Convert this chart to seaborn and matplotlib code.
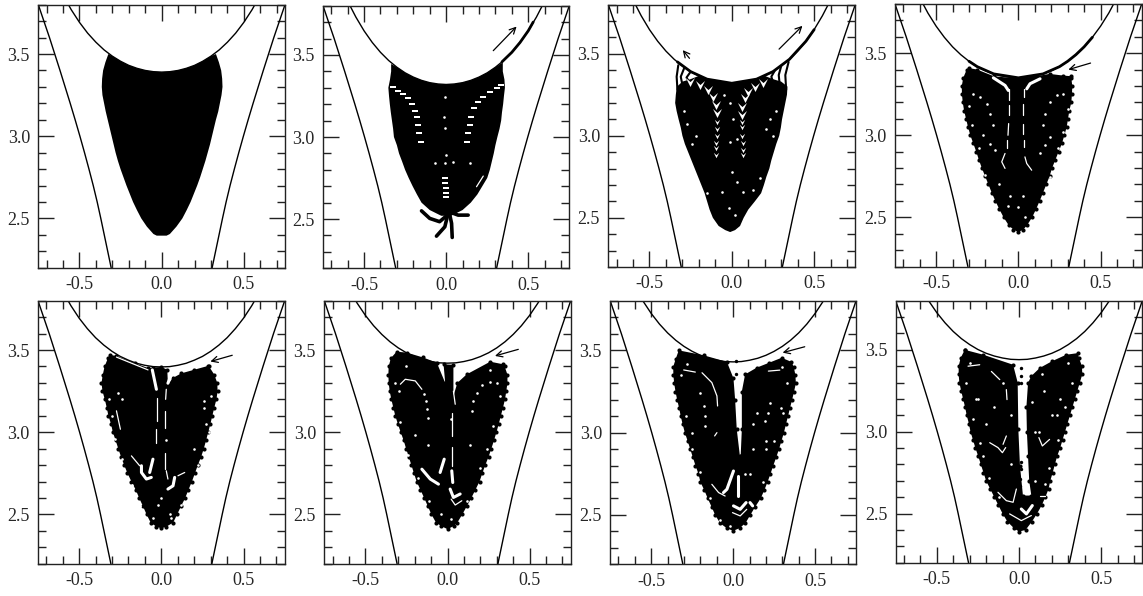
import pandas as pd
import seaborn as sns
import matplotlib.pyplot as plt
from matplotlib.path import Path
from matplotlib.ticker import MultipleLocator

# outer walls, same in every panel
wall_y = [3.8, 3.7, 3.6, 3.5, 3.4, 3.3, 3.2, 3.1, 3.0, 2.9, 2.8, 2.7, 2.6, 2.5, 2.4, 2.3, 2.2]
wall_left_x = [-0.75, -0.716, -0.682, -0.65, -0.618, -0.587, -0.556, -0.526, -0.497, -0.469, -0.442, -0.416, -0.392, -0.37, -0.349, -0.328, -0.307]
wall_right_x = [0.75, 0.716, 0.682, 0.65, 0.618, 0.587, 0.556, 0.526, 0.497, 0.469, 0.442, 0.416, 0.392, 0.37, 0.349, 0.328, 0.307]

# upper wall, one y list per panel, read at these |x|
top_x = [0.0, 0.05, 0.1, 0.15, 0.2, 0.25, 0.3, 0.35, 0.4, 0.45, 0.5, 0.55, 0.6]
top1_y = [3.39, 3.3925, 3.4, 3.413, 3.431, 3.456, 3.487, 3.525, 3.572, 3.627, 3.693, 3.77, 3.86]
top2_y = [3.32, 3.323, 3.331, 3.345, 3.365, 3.391, 3.425, 3.466, 3.516, 3.576, 3.647, 3.731, 3.828]
top3_y = [3.32, 3.323, 3.331, 3.345, 3.365, 3.391, 3.425, 3.466, 3.516, 3.576, 3.647, 3.731, 3.828]
top4_y = [3.35, 3.353, 3.361, 3.374, 3.393, 3.418, 3.451, 3.491, 3.539, 3.597, 3.665, 3.745, 3.839]
top5_y = [3.397, 3.399, 3.407, 3.419, 3.438, 3.461, 3.492, 3.53, 3.575, 3.63, 3.694, 3.77, 3.858]
top6_y = [3.42, 3.422, 3.43, 3.442, 3.46, 3.483, 3.513, 3.55, 3.595, 3.648, 3.711, 3.785, 3.871]
top7_y = [3.43, 3.432, 3.44, 3.452, 3.47, 3.494, 3.524, 3.561, 3.606, 3.66, 3.724, 3.799, 3.886]
top8_y = [3.44, 3.442, 3.45, 3.462, 3.479, 3.502, 3.532, 3.568, 3.612, 3.665, 3.727, 3.8, 3.885]

# cloud edges read at these heights; each side list ends at the panel's lowest level
levels = [3.5, 3.45, 3.4, 3.35, 3.3, 3.25, 3.2, 3.15, 3.1, 3.05, 3.0, 2.95, 2.9, 2.85, 2.8, 2.75, 2.7, 2.65, 2.6, 2.55, 2.5, 2.45]
lowest = [2.45, 2.6, 2.45, 2.45, 2.45, 2.45, 2.45, 2.45]

left1 = [-0.324, -0.342, -0.356, -0.362, -0.364, -0.36, -0.35, -0.34, -0.328, -0.316, -0.304, -0.292, -0.28, -0.266, -0.25, -0.232, -0.214, -0.194, -0.174, -0.15, -0.124, -0.09]
right1 = [0.33, 0.348, 0.362, 0.368, 0.37, 0.364, 0.354, 0.344, 0.33, 0.318, 0.306, 0.294, 0.28, 0.266, 0.25, 0.234, 0.216, 0.196, 0.176, 0.152, 0.126, 0.09]
tip1_x = [-0.05, -0.03, 0.03, 0.05]
tip1_y = [2.405, 2.395, 2.395, 2.405]
edge1_x = [0.33, 0.3, 0.25, 0.2, 0.15, 0.1, 0.05, 0.0, -0.05, -0.1, -0.15, -0.2, -0.25, -0.3, -0.324]
edge1_y = [3.5, 3.487, 3.456, 3.431, 3.413, 3.4, 3.3925, 3.39, 3.3925, 3.4, 3.413, 3.431, 3.456, 3.487, 3.5]

left2 = [-0.335, -0.342, -0.352, -0.348, -0.343, -0.337, -0.33, -0.323, -0.318, -0.3, -0.287, -0.268, -0.25, -0.228, -0.204, -0.178, -0.15]
right2 = [0.345, 0.355, 0.358, 0.352, 0.347, 0.34, 0.335, 0.325, 0.312, 0.3, 0.29, 0.278, 0.266, 0.25, 0.22, 0.19, 0.15]
tip2_x = [-0.1, -0.03, 0.03, 0.1]
tip2_y = [2.555, 2.52, 2.52, 2.555]
edge2_x = [0.345, 0.3, 0.25, 0.2, 0.15, 0.1, 0.05, 0.0, -0.05, -0.1, -0.15, -0.2, -0.25, -0.3, -0.335]
edge2_y = [3.455, 3.425, 3.391, 3.365, 3.345, 3.331, 3.323, 3.32, 3.323, 3.331, 3.345, 3.365, 3.391, 3.425, 3.445]

left3 = [-0.332, -0.334, -0.34, -0.344, -0.335, -0.323, -0.31, -0.3, -0.285, -0.265, -0.245, -0.225, -0.205, -0.185, -0.165, -0.15, -0.135, -0.115, -0.08]
right3 = [0.338, 0.335, 0.325, 0.315, 0.305, 0.298, 0.288, 0.27, 0.255, 0.24, 0.228, 0.21, 0.195, 0.178, 0.14, 0.1, 0.072, 0.05]
tip3_x = [-0.04, -0.01, 0.02]
tip3_y = [2.425, 2.413, 2.425]
edge3_x = [0.338, 0.3, 0.25, 0.2, 0.15, 0.1, 0.05, 0.0, -0.05, -0.1, -0.15, -0.2, -0.25, -0.3, -0.332]
edge3_y = [3.3, 3.33, 3.345, 3.365, 3.345, 3.331, 3.323, 3.32, 3.323, 3.331, 3.345, 3.365, 3.345, 3.33, 3.3]

left4 = [-0.314, -0.335, -0.344, -0.343, -0.338, -0.33, -0.318, -0.306, -0.292, -0.274, -0.256, -0.24, -0.222, -0.202, -0.182, -0.162, -0.14, -0.116, -0.09, -0.058]
right4 = [0.322, 0.328, 0.326, 0.322, 0.31, 0.302, 0.294, 0.28, 0.265, 0.245, 0.225, 0.205, 0.19, 0.17, 0.15, 0.13, 0.108, 0.084, 0.052]
tip4_x = [-0.03, 0.0, 0.03]
tip4_y = [2.425, 2.41, 2.425]
edge4_x = [0.32, 0.27, 0.19, 0.11, 0.03, -0.05, -0.15, -0.25, -0.3]
edge4_y = [3.36, 3.364, 3.374, 3.36, 3.35, 3.35, 3.36, 3.4, 3.41]

left5 = [-0.325, -0.345, -0.356, -0.364, -0.358, -0.344, -0.332, -0.322, -0.306, -0.295, -0.278, -0.262, -0.245, -0.226, -0.206, -0.182, -0.156, -0.135, -0.112, -0.09, -0.065]
right5 = [0.29, 0.322, 0.34, 0.342, 0.335, 0.322, 0.31, 0.298, 0.285, 0.272, 0.258, 0.242, 0.222, 0.204, 0.186, 0.165, 0.145, 0.12, 0.096, 0.072]
tip5_x = [-0.03, 0.0, 0.03]
tip5_y = [2.425, 2.415, 2.425]
edge5_x = [0.283, 0.2, 0.121, 0.07, 0.04, 0.036, 0.0, -0.05, -0.08, -0.16, -0.273, -0.314]
edge5_y = [3.403, 3.38, 3.358, 3.33, 3.291, 3.38, 3.397, 3.393, 3.39, 3.42, 3.464, 3.47]

left6 = [-0.345, -0.358, -0.36, -0.358, -0.352, -0.342, -0.33, -0.318, -0.302, -0.285, -0.267, -0.252, -0.236, -0.22, -0.204, -0.188, -0.165, -0.142, -0.12, -0.098, -0.07]
right6 = [0.348, 0.365, 0.365, 0.358, 0.35, 0.338, 0.325, 0.312, 0.298, 0.283, 0.267, 0.25, 0.23, 0.212, 0.195, 0.17, 0.145, 0.118, 0.09, 0.06]
tip6_x = [-0.04, 0.0, 0.04]
tip6_y = [2.43, 2.41, 2.43]
edge6_x = [0.34, 0.26, 0.117, 0.06, 0.036, 0.036, -0.024, -0.014, -0.065, -0.15, -0.247, -0.31]
edge6_y = [3.413, 3.429, 3.352, 3.3, 3.22, 3.41, 3.413, 3.3, 3.423, 3.455, 3.484, 3.49]

left7 = [-0.35, -0.366, -0.365, -0.36, -0.352, -0.342, -0.33, -0.32, -0.308, -0.295, -0.278, -0.262, -0.246, -0.23, -0.212, -0.2, -0.176, -0.155, -0.132, -0.11, -0.08]
right7 = [0.37, 0.38, 0.383, 0.372, 0.36, 0.347, 0.335, 0.322, 0.31, 0.295, 0.28, 0.263, 0.245, 0.228, 0.21, 0.19, 0.168, 0.135, 0.105, 0.075]
tip7_x = [-0.04, 0.0, 0.04]
tip7_y = [2.42, 2.403, 2.42]
edge7_x = [0.356, 0.296, 0.22, 0.144, 0.073, 0.053, 0.053, 0.046, 0.041, 0.022, 0.012, 0.002, -0.038, -0.18, -0.332]
edge7_y = [3.43, 3.455, 3.425, 3.395, 3.354, 3.25, 3.02, 2.86, 2.86, 3.02, 3.2, 3.33, 3.43, 3.47, 3.5]

left8 = [-0.33, -0.355, -0.367, -0.367, -0.363, -0.352, -0.34, -0.328, -0.318, -0.305, -0.295, -0.28, -0.265, -0.248, -0.232, -0.216, -0.2, -0.175, -0.15, -0.125, -0.1, -0.07]
right8 = [0.365, 0.383, 0.385, 0.37, 0.355, 0.34, 0.325, 0.31, 0.295, 0.28, 0.265, 0.25, 0.232, 0.218, 0.205, 0.19, 0.18, 0.16, 0.138, 0.11, 0.078]
tip8_x = [-0.03, 0.0, 0.04]
tip8_y = [2.41, 2.39, 2.4]
edge8_x = [0.358, 0.287, 0.2, 0.126, 0.075, 0.055, 0.045, 0.048, 0.055, 0.062, 0.075, 0.024, 0.006, -0.004, -0.008, -0.036, -0.217, -0.33]
edge8_y = [3.48, 3.47, 3.43, 3.389, 3.34, 3.298, 3.15, 3.0, 2.85, 2.7, 2.61, 2.61, 2.79, 3.014, 3.3, 3.409, 3.47, 3.5]

# thick ridges of particles hugging the upper wall
ridge2_x = [0.34, 0.4, 0.45, 0.5, 0.53]
ridge2_y = [3.458, 3.516, 3.576, 3.647, 3.7]
ridge3_x = [-0.33, -0.25, -0.15, 0.0, 0.15, 0.25, 0.35, 0.45, 0.5]
ridge3_y = [3.45, 3.391, 3.345, 3.32, 3.345, 3.391, 3.466, 3.576, 3.647]
ridge4_x = [-0.3, -0.25, -0.15, 0.0, 0.15, 0.25, 0.3, 0.35, 0.4, 0.45]
ridge4_y = [3.451, 3.418, 3.374, 3.35, 3.374, 3.418, 3.451, 3.491, 3.539, 3.597]

# black strands under the wall in panel 3
strands3 = [
    ([-0.325, -0.335, -0.33], [3.43, 3.36, 3.28]),
    ([-0.29, -0.31, -0.3], [3.41, 3.36, 3.31]),
    ([-0.25, -0.275, -0.26], [3.39, 3.355, 3.33]),
    ([0.345, 0.325, 0.33], [3.45, 3.37, 3.28]),
    ([0.3, 0.285, 0.29], [3.425, 3.37, 3.32]),
    ([0.26, 0.24, 0.25], [3.395, 3.36, 3.33]),
]

# filaments leaving the bottom of panel 2
leg_a_x = [-0.15, -0.1, -0.04, 0.02]
leg_a_y = [2.55, 2.504, 2.484, 2.535]
leg_b_x = [0.134, 0.073, 0.03]
leg_b_y = [2.524, 2.524, 2.54]
leg_c_x = [-0.059, -0.008, 0.012]
leg_c_y = [2.396, 2.453, 2.535]
leg_d_x = [0.037, 0.033, 0.02]
leg_d_y = [2.388, 2.474, 2.535]

# stray black points
stray7_x = [0.016, 0.016]
stray7_y = [3.435, 3.354]
stray8_x = [0.014, 0.014, 0.014, 0.014, 0.014, 0.008, 0.006]
stray8_y = [3.389, 3.338, 3.3, 2.812, 2.771, 2.71, 2.67]

# white stripes in panel 2
stripes2_x = [-0.323, -0.293, -0.262, -0.232, -0.207, -0.189, -0.177, -0.169, -0.163, -0.156, 0.337, 0.307, 0.266, 0.226, 0.195, 0.171, 0.154, 0.144, 0.134, 0.124, -0.008, -0.008, 0.002, 0.002, -0.002]
stripes2_y = [3.303, 3.283, 3.262, 3.236, 3.201, 3.161, 3.12, 3.073, 3.022, 2.972, 3.317, 3.297, 3.276, 3.246, 3.215, 3.175, 3.124, 3.073, 3.022, 2.972, 2.748, 2.717, 2.687, 2.66, 2.636]

# white specks inside the cloud
holes2_x = [-0.008, -0.014, -0.008, 0.002, -0.065, -0.008, 0.043, 0.144]
holes2_y = [3.246, 3.124, 3.053, 2.89, 2.839, 2.839, 2.85, 2.839]
holes3_x = [-0.29, -0.24, -0.2, -0.15, -0.05, 0.01, 0.03, 0.23, 0.25, -0.06, 0.0, 0.07, -0.02, 0.02, -0.27, -0.22, 0.21, 0.27, -0.01, -0.01, 0.03, 0.13, 0.17]
holes3_y = [3.15, 2.95, 2.7, 2.65, 3.25, 3.1, 2.98, 3.1, 3.0, 2.66, 2.78, 2.66, 2.56, 2.52, 3.07, 3.0, 3.04, 3.15, 3.2, 2.96, 2.72, 2.67, 2.74]
holes4_x = [-0.273, -0.233, -0.192, -0.172, -0.152, -0.213, -0.172, -0.142, 0.273, 0.233, 0.192, 0.162, 0.148, 0.192, 0.162, 0.132, 0.192, -0.061, 0.04, 0.0, -0.3, -0.28, -0.24, -0.2, 0.3, 0.27, 0.24, -0.05, 0.03, -0.12]
holes4_y = [3.253, 3.233, 3.192, 3.132, 3.061, 3.0, 2.949, 2.909, 3.253, 3.243, 3.202, 3.132, 3.061, 2.99, 2.939, 2.889, 2.747, 2.569, 2.504, 2.565, 3.18, 3.06, 2.92, 2.76, 3.16, 3.02, 2.92, 2.63, 2.63, 2.7]
holes5_x = [-0.263, -0.24, 0.257, 0.26, -0.3, 0.29, 0.0, -0.02, 0.03, 0.05, 0.2, -0.32, -0.28, -0.24, -0.18, 0.3, 0.27, 0.22, 0.16, -0.13, 0.12, -0.05, 0.06]
holes5_y = [3.241, 3.2, 3.19, 3.15, 3.1, 3.0, 2.6, 2.56, 2.95, 2.5, 2.9, 3.2, 2.96, 2.84, 2.68, 3.22, 3.05, 2.8, 2.62, 2.55, 2.56, 2.48, 2.48]
holes6_x = [-0.146, -0.132, -0.126, -0.119, -0.298, 0.259, 0.3, 0.209, 0.178, 0.158, 0.148, -0.2, -0.12, 0.14, 0.02, -0.04, -0.32, -0.29, -0.24, -0.18, 0.32, 0.28, 0.24, 0.2, -0.11, 0.12, 0.02, -0.25, 0.26]
holes6_y = [3.231, 3.19, 3.14, 3.089, 3.251, 3.306, 3.298, 3.286, 3.241, 3.19, 3.13, 2.98, 2.92, 2.92, 3.08, 2.5, 3.3, 3.06, 2.86, 2.72, 3.22, 3.04, 2.9, 2.78, 2.58, 2.58, 2.47, 3.4, 3.38]
holes7_x = [-0.18, -0.17, -0.17, 0.225, 0.215, 0.194, 0.144, 0.306, -0.2, -0.25, 0.12, 0.2, -0.02, 0.2, 0.07, -0.32, -0.29, -0.25, -0.2, 0.33, 0.29, 0.25, 0.12, 0.1, -0.14, -0.08, 0.18, 0.3, -0.28]
holes7_y = [3.162, 3.1, 3.04, 3.182, 3.12, 3.071, 3.12, 3.121, 3.24, 3.0, 2.9, 2.9, 2.43, 2.95, 2.75, 3.35, 3.1, 2.9, 2.76, 3.3, 3.15, 2.95, 3.05, 2.75, 2.6, 2.47, 2.7, 3.4, 3.42]
holes8_x = [-0.25, -0.2, -0.15, 0.15, 0.2, 0.25, -0.05, 0.1, -0.22, 0.23, -0.32, -0.28, -0.24, -0.18, -0.12, 0.32, 0.28, 0.24, 0.18, 0.14, -0.3, 0.3, 0.1, -0.05, -0.26, 0.12, 0.08, -0.1, 0.16]
holes8_y = [3.2, 3.05, 3.15, 3.25, 3.1, 3.2, 3.1, 3.0, 2.85, 3.1, 3.3, 3.08, 2.93, 2.72, 2.6, 3.3, 3.15, 2.95, 2.78, 3.35, 3.42, 3.42, 2.7, 2.8, 3.2, 3.0, 3.18, 3.3, 2.68]

# chevrons in panel 3
chevron_big_x = [-0.254, -0.193, -0.143, -0.116, -0.096, -0.092, 0.191, 0.141, 0.1, 0.08, 0.064, 0.06]
chevron_big_y = [3.329, 3.309, 3.279, 3.234, 3.187, 3.137, 3.319, 3.299, 3.265, 3.229, 3.177, 3.126]
chevron_small_x = [-0.088, -0.088, -0.092, -0.096, -0.096, -0.096, 0.06, 0.06, 0.06, 0.066, 0.066, 0.066]
chevron_small_y = [3.085, 3.041, 2.998, 2.957, 2.923, 2.882, 3.085, 3.051, 2.998, 2.954, 2.913, 2.882]

# white streaks (x list, y list): thin ones, then wide ones
thin2 = [([0.226, 0.185], [2.762, 2.697])]
wide4 = [
    ([-0.152, -0.081, -0.061], [3.35, 3.304, 3.273]),
    ([0.132, 0.071, 0.051], [3.344, 3.314, 3.283]),
]
thin4 = [
    ([-0.055, -0.055], [3.283, 3.213]),
    ([-0.055, -0.055], [3.182, 3.121]),
    ([-0.059, -0.063], [3.071, 3.0]),
    ([-0.071, -0.071], [2.97, 2.92]),
    ([0.034, 0.034], [3.283, 3.233]),
    ([0.03, 0.03], [3.192, 3.121]),
    ([0.03, 0.03], [3.071, 3.01]),
    ([0.036, 0.036], [2.97, 2.93]),
    ([-0.081, -0.101, -0.081], [2.889, 2.838, 2.798]),
    ([0.04, 0.051, 0.081], [2.868, 2.828, 2.787]),
]
wide5 = [
    ([-0.055, -0.03], [3.379, 3.261]),
    ([0.071, 0.04], [3.379, 3.298]),
    ([-0.051, -0.071], [2.836, 2.755]),
    ([-0.121, -0.121, -0.091, -0.061], [2.796, 2.755, 2.715, 2.725]),
    ([0.081, 0.071, 0.04], [2.725, 2.674, 2.654]),
]
thin5 = [
    ([-0.273, -0.081], [3.457, 3.379]),
    ([0.03, 0.026], [3.261, 3.2]),
    ([-0.026, -0.026], [3.21, 3.069]),
    ([0.02, 0.02], [3.13, 3.028]),
    ([-0.03, -0.03], [3.018, 2.937]),
    ([-0.182, -0.132], [2.856, 2.796]),
    ([0.024, 0.024], [2.876, 2.775]),
    ([0.03, 0.04], [2.765, 2.715]),
    ([0.101, 0.142], [2.735, 2.755]),
    ([-0.273, -0.249], [3.13, 3.018]),
]
wide6 = [
    ([-0.02, -0.045], [2.836, 2.755]),
    ([-0.156, -0.105, -0.055], [2.775, 2.715, 2.684]),
    ([0.026, 0.032], [2.765, 2.694]),
    ([0.016, 0.036, 0.077], [2.654, 2.603, 2.624]),
]
thin6 = [
    ([0.036, 0.047], [3.25, 3.17]),
    ([0.03, 0.03], [3.119, 2.978]),
    ([0.026, 0.026], [2.907, 2.796]),
    ([0.022, 0.047, 0.087], [2.593, 2.557, 2.583]),
    ([-0.287, -0.257, -0.196, -0.156], [3.292, 3.322, 3.312, 3.261]),
]
wide7 = [
    ([0.002, -0.038, -0.059], [2.767, 2.656, 2.636]),
    ([0.032, 0.032], [2.737, 2.615]),
    ([0.002, 0.043, 0.079], [2.555, 2.534, 2.575]),
    ([0.103, 0.119], [2.575, 2.555]),
]
thin7 = [
    ([-0.302, -0.231], [3.381, 3.368]),
    ([-0.19, -0.13, -0.099, -0.095], [3.364, 3.304, 3.223, 3.162]),
    ([-0.099, -0.113], [3.0, 2.98]),
    ([-0.13, -0.089, -0.049], [2.686, 2.636, 2.615]),
    ([-0.004, 0.043, 0.083], [2.514, 2.494, 2.534]),
    ([0.215, 0.285], [3.374, 3.38]),
]
wide8 = [
    ([0.014, 0.045, 0.081], [2.528, 2.498, 2.549]),
]
thin8 = [
    ([-0.31, -0.239], [3.4, 3.409]),
    ([-0.168, -0.117], [3.368, 3.318]),
    ([-0.077, -0.073], [3.257, 3.196]),
    ([-0.077, -0.097], [2.974, 2.923]),
    ([-0.178, -0.128, -0.101, -0.081], [2.933, 2.903, 2.872, 2.903]),
    ([0.121, 0.142, 0.186], [2.964, 2.913, 2.953]),
    ([-0.128, -0.077, -0.036, -0.016], [2.63, 2.579, 2.569, 2.65]),
    ([-0.057, 0.014, 0.075], [2.498, 2.457, 2.488]),
    ([0.126, 0.156], [2.609, 2.609]),
]

# arrows: tail and head
arrows2 = [((0.287, 3.526), (0.429, 3.673))]
arrows3 = [((0.287, 3.528), (0.429, 3.67)), ((-0.257, 3.472), (-0.298, 3.522))]
arrows4 = [((0.439, 3.44), (0.304, 3.4))]
arrows5 = [((0.431, 3.468), (0.298, 3.43))]
arrows6 = [((0.431, 3.504), (0.289, 3.464))]
arrows7 = [((0.437, 3.522), (0.302, 3.486))]

x_tick_labels = ['-0.5', '0.0', '0.5']
y_tick_labels = ['2.5', '3.0', '3.5']

sns.set_style('ticks')
plt.rcParams['font.family'] = ['Liberation Serif', 'DejaVu Serif']

W, H = 1143, 596
# left, right, top, bottom of every panel in pixels
boxes = [(38.3, 285, 4.7, 267.7), (323, 569.3, 5.7, 268.3), (608.3, 855.3, 4.5, 267), (895, 1141.7, 4, 266.5),
         (38, 284.7, 300.7, 563.7), (324.3, 570.7, 300.7, 563.7), (610.3, 856, 301, 564.3), (895.7, 1142.3, 300.7, 562.7)]

tops = [top1_y, top2_y, top3_y, top4_y, top5_y, top6_y, top7_y, top8_y]
lefts = [left1, left2, left3, left4, left5, left6, left7, left8]
rights = [right1, right2, right3, right4, right5, right6, right7, right8]
tips = [(tip1_x, tip1_y), (tip2_x, tip2_y), (tip3_x, tip3_y), (tip4_x, tip4_y),
        (tip5_x, tip5_y), (tip6_x, tip6_y), (tip7_x, tip7_y), (tip8_x, tip8_y)]
edges = [(edge1_x, edge1_y), (edge2_x, edge2_y), (edge3_x, edge3_y), (edge4_x, edge4_y),
         (edge5_x, edge5_y), (edge6_x, edge6_y), (edge7_x, edge7_y), (edge8_x, edge8_y)]
holes = [None, (holes2_x, holes2_y), (holes3_x, holes3_y), (holes4_x, holes4_y),
         (holes5_x, holes5_y), (holes6_x, holes6_y), (holes7_x, holes7_y), (holes8_x, holes8_y)]
ridges = [None, (ridge2_x, ridge2_y), (ridge3_x, ridge3_y), (ridge4_x, ridge4_y), None, None, None, None]
strays = [None, None, None, None, None, None, (stray7_x, stray7_y), (stray8_x, stray8_y)]
thin = [[], thin2, [], thin4, thin5, thin6, thin7, thin8]
wide = [[], [], [], wide4, wide5, wide6, wide7, wide8]
arrows = [[], arrows2, arrows3, arrows4, arrows5, arrows6, arrows7, []]

# white V with a notch on top, and a flat stripe
chevron = Path([(-1, 1), (0, 0.1), (1, 1), (0, -1), (-1, 1)], closed=True)
stripe = Path([(-1, -0.3), (1, -0.3), (1, 0.3), (-1, 0.3), (-1, -0.3)], closed=True)


def curve(ax, x, y, color='black', lw=1.0, z=2):
    df = pd.DataFrame({'x': x, 'y': y})
    sns.lineplot(data=df, x='x', y='y', sort=False, estimator=None, color=color, linewidth=lw, ax=ax, zorder=z)


def dots(ax, x, y, color, s, marker='o'):
    df = pd.DataFrame({'x': x, 'y': y})
    sns.scatterplot(data=df, x='x', y='y', color=color, s=s, marker=marker, linewidth=0, ax=ax, zorder=4)


fig = plt.figure(figsize=(W / 100, H / 100), dpi=100)

for i, (l, r, t, b) in enumerate(boxes):
    ax = fig.add_axes([l / W, 1 - b / H, (r - l) / W, (b - t) / H])

    curve(ax, wall_left_x, wall_y)
    curve(ax, wall_right_x, wall_y)
    ty = tops[i]
    curve(ax, [-v for v in top_x[::-1]] + top_x[1:], ty[::-1] + ty[1:])

    # cloud outline: down the left side, round the tip, up the right side, back along the top
    lv = [v for v in levels if v >= lowest[i]]
    left_y = lv[-len(lefts[i]):]
    right_y = lv[-len(rights[i]):]
    bx = lefts[i] + tips[i][0] + rights[i][::-1] + edges[i][0]
    by = left_y + tips[i][1] + right_y[::-1] + edges[i][1]
    ax.fill(bx, by, color='black', lw=0, zorder=3)
    if i >= 3:
        dots(ax, bx, by, 'black', 9)
    if ridges[i] is not None:
        curve(ax, ridges[i][0], ridges[i][1], lw=2.0, z=3)
    if strays[i] is not None:
        dots(ax, strays[i][0], strays[i][1], 'black', 6)

    if i == 1:
        for lx, ly in [(leg_a_x, leg_a_y), (leg_b_x, leg_b_y), (leg_c_x, leg_c_y), (leg_d_x, leg_d_y)]:
            curve(ax, lx, ly, lw=2.6)
        dots(ax, stripes2_x, stripes2_y, 'white', 14, marker=stripe)
    if i == 2:
        for sx, sy in strands3:
            curve(ax, sx, sy, lw=1.5, z=3)
        dots(ax, chevron_big_x, chevron_big_y, 'white', 42, marker=chevron)
        dots(ax, chevron_small_x, chevron_small_y, 'white', 15, marker=chevron)

    if holes[i] is not None:
        dots(ax, holes[i][0], holes[i][1], 'white', 3.5)
    for sx, sy in thin[i]:
        curve(ax, sx, sy, color='white', lw=0.9, z=5)
    for sx, sy in wide[i]:
        curve(ax, sx, sy, color='white', lw=2.2, z=5)

    for tail, head in arrows[i]:
        ax.annotate('', xy=head, xytext=tail, zorder=6,
                    arrowprops=dict(arrowstyle='->', color='black', lw=0.9, mutation_scale=11, shrinkA=0, shrinkB=0))

    ax.set_xlim(-0.75, 0.75)
    ax.set_ylim(2.2, 3.8)
    ax.set_xlabel('')
    ax.set_ylabel('')
    ax.set_xticks([-0.5, 0.0, 0.5])
    ax.set_xticklabels(x_tick_labels, fontsize=13)
    ax.set_yticks([2.5, 3.0, 3.5])
    ax.set_yticklabels(y_tick_labels, fontsize=13)
    ax.xaxis.set_minor_locator(MultipleLocator(0.1))
    ax.yaxis.set_minor_locator(MultipleLocator(0.1))
    ax.tick_params(which='major', direction='in', length=11.5, width=1.0, top=True, right=True, color='#222222', pad=6)
    ax.tick_params(which='minor', direction='in', length=5.8, width=1.0, top=True, right=True, color='#222222')
    for s in ax.spines.values():
        s.set_linewidth(1.0)
        s.set_color('#222222')

fig.savefig('out.png', dpi=100)
